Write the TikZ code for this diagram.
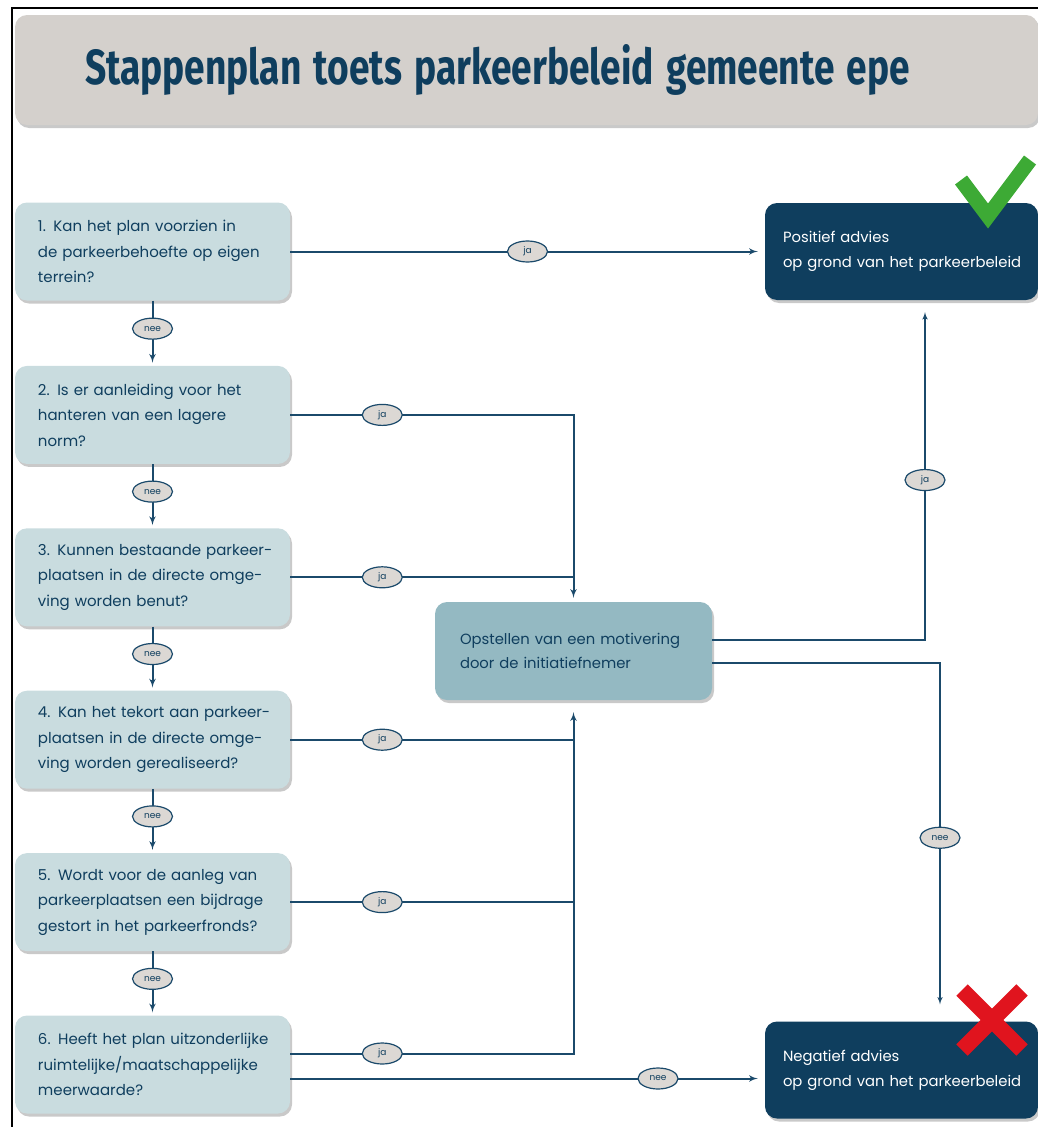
\documentclass[tikz,border=0pt]{standalone}
\usepackage{fontspec}
\setmainfont{Poppins}
\newfontfamily\titlefont{Fira Sans}
\usetikzlibrary{positioning, shapes.geometric, arrows, shadows}

\definecolor{epeblue}{HTML}{0F3E5E}
\definecolor{epeline}{HTML}{1B4A6B}
\definecolor{epelight}{HTML}{C9DCDF}
\definecolor{epemid}{HTML}{94B9C2}
\definecolor{epegray}{HTML}{D4D0CC}
\definecolor{epeoval}{HTML}{DCD8D4}
\definecolor{epegreen}{HTML}{3DAA35}
\definecolor{epered}{HTML}{E0141E}

\begin{document}
\begin{tikzpicture}[x=1pt, y=-1pt, node distance=64pt and 64pt]
        % Styles
        \tikzstyle{boxshadow} = [drop shadow={shadow xshift=2pt, shadow yshift=-3pt, opacity=0.3, fill=black!70}]
        \tikzstyle{question} = [rectangle, fill=epelight, boxshadow, text=epeblue,
            minimum width=275pt, minimum height=98pt, text width=245pt, inner xsep=15pt,
            execute at begin node={\leftskip=8pt},
            align=left, rounded corners=12pt, font=\fontsize{15}{25.5}\selectfont]
        \tikzstyle{advice} = [rectangle, fill=epeblue, boxshadow, text=white,
            minimum width=273pt, minimum height=97pt, text width=255pt, inner xsep=9pt,
            execute at begin node={\leftskip=9pt},
            align=left, rounded corners=12pt, font=\fontsize{14.8}{25}\selectfont]
        \tikzstyle{motiv} = [rectangle, fill=epemid, boxshadow, text=epeblue,
            minimum width=277pt, minimum height=98pt, text width=237pt, inner xsep=20pt,
            execute at begin node={\leftskip=5pt},
            align=left, rounded corners=12pt, font=\fontsize{14.8}{24}\selectfont]
        \tikzstyle{titlebox} = [rectangle, fill=epegray, boxshadow, text=epeblue,
            minimum width=1023pt, minimum height=110pt, text width=883pt, inner xsep=70pt,
            align=left, rounded corners=12pt]
        \tikzstyle{answer} = [ellipse, draw=epeline, line width=1.2pt, fill=epeoval, text=epeblue,
            minimum width=40pt, minimum height=21pt, inner sep=0pt, font=\fontsize{9}{9}\selectfont]
        \tikzstyle{line} = [draw=epeline, line width=2pt, -latex', shorten >=3pt]
        \tikzstyle{plain} = [draw=epeline, line width=2pt]
        \tikzstyle{thin} = [draw=epeline, line width=1.5pt, -latex']

        \useasboundingbox (0,0) rectangle (1038,1127);
        % Frame
        \draw[line width=1.5pt] (12,1127) -- (12,8) -- (1038,8);

        % Nodes
        \node [titlebox] (title) at (526.5,70)
            {\resizebox{825pt}{40pt}{\titlefont\bfseries Stappenplan toets parkeerbeleid gemeente epe}};
        \node [question] (q1) at (152.5,251.5) {1. Kan het plan voorzien in\\de parkeerbehoefte op eigen\\terrein?};
        \node [question, below=65pt of q1] (q2) {2. Is er aanleiding voor het\\hanteren van een lagere\\norm?};
        \node [question, below=of q2] (q3) {3. Kunnen bestaande parkeer-\\plaatsen in de directe omge-\\ving worden benut?};
        \node [question, below=of q3] (q4) {4. Kan het tekort aan parkeer-\\plaatsen in de directe omge-\\ving worden gerealiseerd?};
        \node [question, below=of q4] (q5) {5. Wordt voor de aanleg van\\parkeerplaatsen een bijdrage\\gestort in het parkeerfronds?};
        \node [question, below=of q5] (q6) {6. Heeft het plan uitzonderlijke\\ruimtelijke/maatschappelijke\\meerwaarde?};
        \node [advice] (posit) at (901.5,251.5) {Positief advies\\op grond van het parkeerbeleid};
        \node [advice] (negat) at (901.5,1070) {Negatief advies\\op grond van het parkeerbeleid};
        \node [motiv] (motiv) at (573.5,651) {Opstellen van een motivering\\door de initiatiefnemer};

        % Connections: nee
        \foreach \a/\b in {q1/q2, q2/q3, q3/q4, q4/q5, q5/q6}
            \path [line] (\a.south) -- node[answer, pos=0.43] {nee} (\b.north);

        % Connections: ja
        \path [line, shorten >=7pt] (q1.east) -- node[answer, pos=0.5] {ja} (posit.west);
        \path [line, shorten >=4pt] (q2.east) -- node[answer, pos=0.325] {ja} (q2.east -| motiv.north) -- (motiv.north);
        \path [plain] (q3.east) -- node[answer, pos=0.325] {ja} (q3.east -| motiv.north);
        \path [plain] (q4.east) -- node[answer, pos=0.325] {ja} (q4.east -| motiv.south);
        \path [plain] (q5.east) -- node[answer, pos=0.325] {ja} (q5.east -| motiv.south);
        \path [line, shorten >=12pt] ([yshift=11pt]q6.east) -- node[answer, pos=0.325] {ja}
            ([yshift=11pt]q6.east -| motiv.south) -- (motiv.south);
        \path [line, shorten >=7pt] ([yshift=-14pt]q6.east) -- node[answer, pos=0.775] {nee}
            ([yshift=-14pt]q6.east -| negat.west);

        % Connections: advies
        \path [thin] ([yshift=11pt]motiv.east) -| node[answer, pos=0.744] {ja}
            ([xshift=23.5pt, yshift=-12pt]posit.south);
        \path [thin] ([yshift=-12pt]motiv.east) -| node[answer, pos=0.756] {nee}
            ([xshift=38.5pt, yshift=17pt]negat.north);

        % Marks
        \draw [epegreen, line width=15pt] (961,180) -- (988,216) -- (1030,160);
        \draw [epered, line width=16pt] (962,990) -- (1022,1050);
        \draw [epered, line width=16pt] (1022,990) -- (962,1050);
    \end{tikzpicture}
\end{document}
